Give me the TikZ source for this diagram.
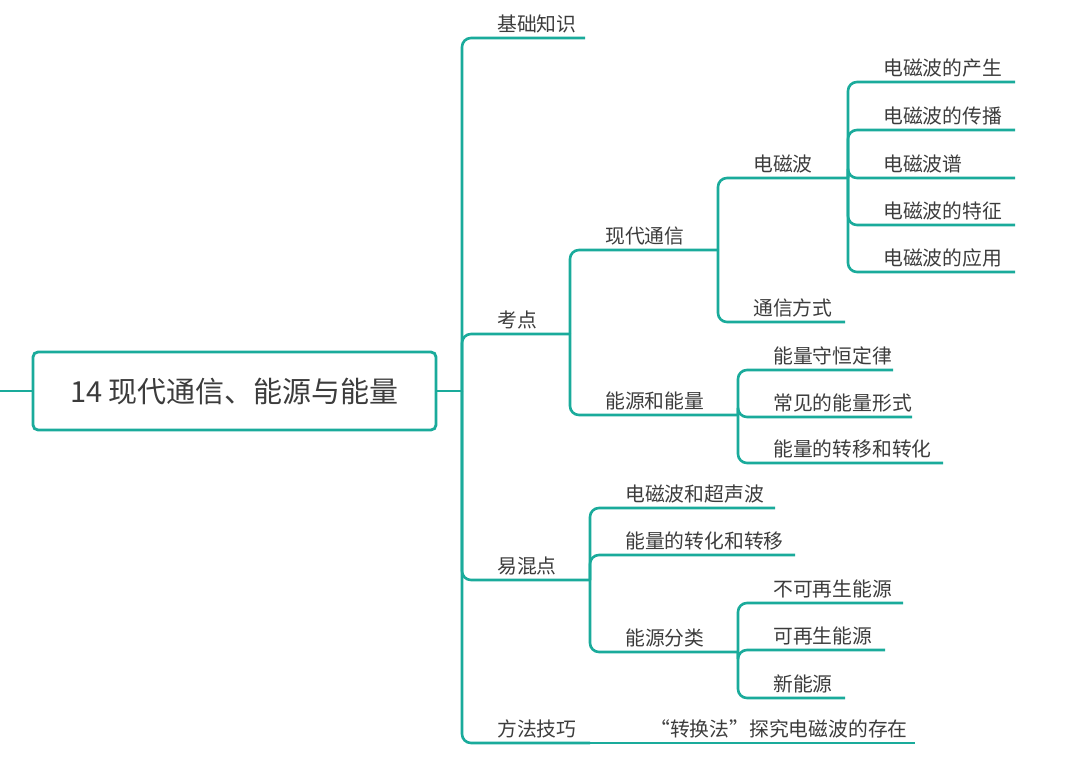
\documentclass[tikz,border=0pt]{standalone}
\usepackage{fontspec}
\newfontfamily\cjk{Noto Sans CJK SC}
\definecolor{teal1}{RGB}{26,171,155}
\definecolor{txt}{RGB}{60,60,60}
\newcommand{\brl}[5]{%
 \draw[ln] (#1,#2) -- (#1,#3) -- (#4,#3);
 \node[lab] at (#1+35,#3) {#5};}
\begin{document}
\begin{tikzpicture}[x=1pt,y=-1pt,
 ln/.style={draw=teal1,line width=2.6pt,rounded corners=9pt},
 lab/.style={anchor=south west,inner sep=0pt,yshift=5pt,font=\cjk\fontsize{19.8}{22}\selectfont,text=txt}]
\useasboundingbox (0,0) rectangle (1080,762);
\node[draw=teal1,line width=2.8pt,rounded corners=5pt,minimum width=403pt,minimum height=78pt,font=\cjk\fontsize{29}{32}\selectfont,text=txt] (root) at (234.5,391) {14 现代通信、能源与能量};
\draw[ln] (0,391) -- (root.west);
\draw[ln] (root.east) -- (462,391);
\brl{462}{391}{38}{585}{基础知识}
\brl{462}{391}{334}{570}{考点}
\brl{462}{391}{580}{590}{易混点}
\brl{462}{391}{743}{590}{方法技巧}
\draw[ln] (590,743) -- (915,743);
\node[lab] at (650,743) {“转换法”探究电磁波的存在};
\brl{570}{334}{250}{718}{现代通信}
\brl{570}{334}{415}{738}{能源和能量}
\brl{718}{250}{178}{848}{电磁波}
\brl{718}{250}{322}{845}{通信方式}
\brl{848}{178}{82}{1015}{电磁波的产生}
\brl{848}{178}{130}{1015}{电磁波的传播}
\brl{848}{178}{178}{1015}{电磁波谱}
\brl{848}{178}{225}{1015}{电磁波的特征}
\brl{848}{178}{272}{1015}{电磁波的应用}
\brl{738}{415}{370}{893}{能量守恒定律}
\brl{738}{415}{417}{912}{常见的能量形式}
\brl{738}{415}{463}{943}{能量的转移和转化}
\brl{590}{580}{508}{775}{电磁波和超声波}
\brl{590}{580}{555}{795}{能量的转化和转移}
\brl{590}{580}{652}{738}{能源分类}
\brl{738}{652}{603}{903}{不可再生能源}
\brl{738}{652}{650}{885}{可再生能源}
\brl{738}{652}{698}{845}{新能源}
\end{tikzpicture}
\end{document}
